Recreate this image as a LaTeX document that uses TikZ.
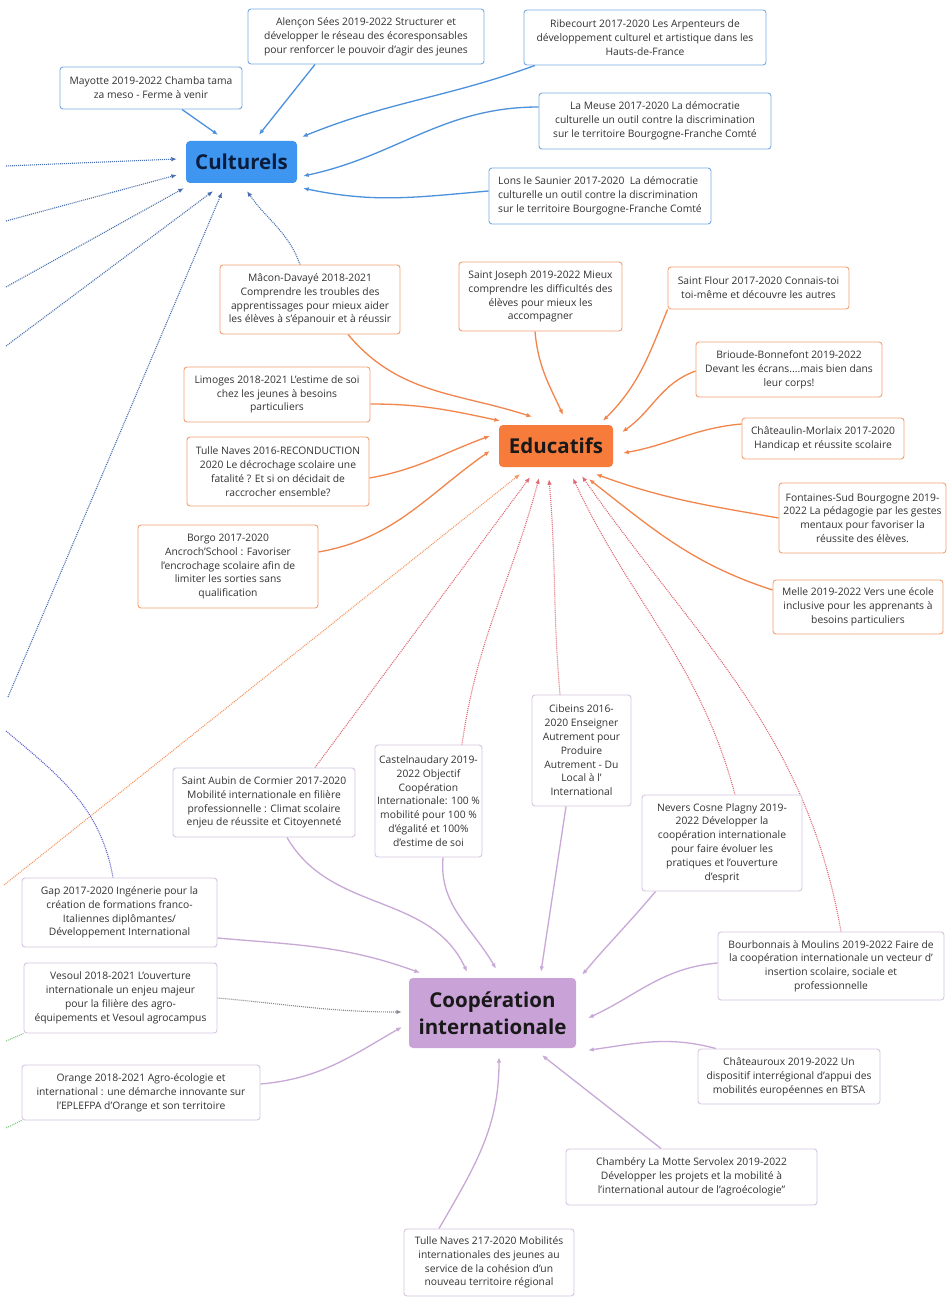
\documentclass[tikz,border=0pt]{standalone}
\usepackage{fontspec}
\setmainfont{Open Sans}
\usetikzlibrary{arrows.meta}
\pgfdeclarelayer{sheet}
\pgfdeclarelayer{links}
\pgfsetlayers{sheet,links,main}

\definecolor{culfill}{RGB}{62,150,240}
\definecolor{cultext}{RGB}{10,28,60}
\definecolor{blueline}{RGB}{120,170,225}
\definecolor{bluelink}{RGB}{75,145,220}
\definecolor{bluedot}{RGB}{70,110,175}
\definecolor{edufill}{RGB}{247,124,60}
\definecolor{orangeline}{RGB}{244,160,115}
\definecolor{orangelink}{RGB}{241,133,75}
\definecolor{orangedot}{RGB}{245,150,95}
\definecolor{pinkdot}{RGB}{225,105,115}
\definecolor{coopfill}{RGB}{201,162,216}
\definecolor{purpleline}{RGB}{214,196,224}
\definecolor{purplelink}{RGB}{200,168,214}
\definecolor{greydot}{RGB}{135,135,145}
\definecolor{violetdot}{RGB}{95,95,205}
\definecolor{greendot}{RGB}{110,200,110}
\definecolor{txtgray}{RGB}{50,50,50}

\begin{document}
\begin{tikzpicture}[x=1pt,y=-1pt,
  txtbox/.style={draw, rounded corners=3pt, line width=0.9pt, fill=white,
    align=center, inner sep=0pt, text=txtgray,
    font=\fontsize{10.3}{13.8}\selectfont},
  sz/.style 2 args={minimum width=#1pt, minimum height=#2pt},
  cbox/.style={txtbox, draw=blueline},
  ebox/.style={txtbox, draw=orangeline},
  ibox/.style={txtbox, draw=purpleline},
  hub/.style={rounded corners=4pt, inner sep=0pt, align=center,
    font=\fontsize{20.5}{27}\selectfont\bfseries},
  tip/.style={-{Latex[length=5.5pt,width=4.5pt]}},
  blink/.style={tip, line width=1.3pt, draw=bluelink},
  olink/.style={tip, line width=1.3pt, draw=orangelink},
  plink/.style={tip, line width=1.3pt, draw=purplelink},
  dots/.style={tip, line width=1.1pt, dash pattern=on 1pt off 1pt},
  bdot/.style={dots, draw=bluedot},
  odot/.style={dots, draw=orangedot},
  pdot/.style={dots, draw=pinkdot},
  gdot/.style={dots, draw=greydot},
]
\begin{pgfonlayer}{sheet}
\fill[white] (0,0) rectangle (949,1297);
\end{pgfonlayer}
\useasboundingbox (0,0) rectangle (949,1297);

% ---------- hubs ----------
\node[hub, fill=culfill, text=cultext, sz={111}{42}] (cult) at (241.5,162) {Culturels};
\node[hub, fill=edufill, text=black!90, sz={114}{42}] (edu) at (556,446) {Educatifs};
\node[hub, fill=coopfill, text=black!90, sz={167}{70}] (coop) at (492.5,1013) {Coopération\\internationale};

% ---------- cultural projects ----------
\node[cbox, sz={182}{42}] (mayotte) at (151,88) {Mayotte 2019-2022 Chamba tama\\za meso - Ferme à venir};
\node[cbox, sz={236}{55}] (alencon) at (366,36.5) {Alençon Sées 2019-2022 Structurer et\\développer le réseau des écoresponsables\\pour renforcer le pouvoir d'agir des jeunes};
\node[cbox, sz={242}{55}] (ribecourt) at (645,37.5) {Ribecourt 2017-2020 Les Arpenteurs de\\développement culturel et artistique dans les\\Hauts-de-France};
\node[cbox, sz={232}{56}] (meuse) at (655,121) {La Meuse 2017-2020 La démocratie\\culturelle un outil contre la discrimination\\sur le territoire Bourgogne-Franche Comté};
\node[cbox, sz={222}{56}, align=left] (lons) at (600,196) {Lons le Saunier 2017-2020 \ La démocratie\\culturelle un outil contre la discrimination\\sur le territoire Bourgogne-Franche Comté};

% ---------- educational projects ----------
\node[ebox, sz={180}{69}] (macon) at (310,299.5) {Mâcon-Davayé 2018-2021\\Comprendre les troubles des\\apprentissages pour mieux aider\\les élèves à s'épanouir et à réussir};
\node[ebox, sz={163}{69}] (joseph) at (540.5,296.5) {Saint Joseph 2019-2022 Mieux\\comprendre les difficultés des\\élèves pour mieux les\\accompagner};
\node[ebox, sz={181}{42}] (flour) at (758.5,288) {Saint Flour 2017-2020 Connais-toi\\toi-même et découvre les autres};
\node[ebox, sz={186}{55}] (limoges) at (277,394.5) {Limoges 2018-2021 L'estime de soi\\chez les jeunes à besoins\\particuliers};
\node[ebox, sz={186}{55}] (brioude) at (789,369.5) {Brioude-Bonnefont 2019-2022\\Devant les écrans....mais bien dans\\leur corps!};
\node[ebox, sz={182}{69}] (tulleA) at (278,471.5) {Tulle Naves 2016-RECONDUCTION\\2020 Le décrochage scolaire une\\fatalité ? Et si on décidait de\\raccrocher ensemble?};
\node[ebox, sz={162}{41}] (chateaulin) at (823,438.5) {Châteaulin-Morlaix 2017-2020\\Handicap et réussite scolaire};
\node[ebox, sz={180}{83}] (borgo) at (228,566.5) {Borgo 2017-2020\\Ancroch'School : Favoriser\\l'encrochage scolaire afin de\\limiter les sorties sans\\qualification};
\node[ebox, sz={167}{70}] (fontaines) at (862.5,518) {Fontaines-Sud Bourgogne 2019-\\2022 La pédagogie par les gestes\\mentaux pour favoriser la\\réussite des élèves.};
\node[ebox, sz={170}{54}] (melle) at (858,607) {Melle 2019-2022 Vers une école\\inclusive pour les apprenants à\\besoins particuliers};

% ---------- international projects ----------
\node[ibox, sz={99}{111}] (cibeins) at (581.5,750.5) {Cibeins 2016-\\2020 Enseigner\\Autrement pour\\Produire\\Autrement - Du\\Local à l'\\International};
\node[ibox, sz={107}{112}] (castel) at (428.5,801) {Castelnaudary 2019-\\2022 Objectif\\Coopération\\Internationale: 100 \%\\mobilité pour 100 \%\\d'égalité et 100\%\\d'estime de soi};
\node[ibox, sz={182}{69}] (aubin) at (264,802.5) {Saint Aubin de Cormier 2017-2020\\Mobilité internationale en filière\\professionnelle : Climat scolaire\\enjeu de réussite et Citoyenneté};
\node[ibox, sz={160}{96}] (nevers) at (722,843) {Nevers Cosne Plagny 2019-\\2022 Développer la\\coopération internationale\\pour faire évoluer les\\pratiques et l'ouverture\\d'esprit};
\node[ibox, sz={195}{69}] (gap) at (119.5,912.5) {Gap 2017-2020 Ingénerie pour la\\création de formations franco-\\Italiennes diplômantes/\\Développement International};
\node[ibox, sz={226}{68}] (bourb) at (831,966) {Bourbonnais à Moulins 2019-2022 Faire de\\la coopération internationale un vecteur d'\\insertion scolaire, sociale et\\professionnelle};
\node[ibox, sz={193}{70}] (vesoul) at (120.5,998) {Vesoul 2018-2021 L'ouverture\\internationale un enjeu majeur\\pour la filière des agro-\\équipements et Vesoul agrocampus};
\node[ibox, sz={182}{55}] (chatx) at (789,1076.5) {Châteauroux 2019-2022 Un\\dispositif interrégional d'appui des\\mobilités européennes en BTSA};
\node[ibox, sz={238}{55}] (orange) at (141,1092.5) {Orange 2018-2021 Agro-écologie et\\international : une démarche innovante sur\\l'EPLEFPA d'Orange et son territoire};
\node[ibox, sz={251}{56}] (chamb) at (691.5,1177) {Chambéry La Motte Servolex 2019-2022\\Développer les projets et la mobilité à\\l'international autour de l'agroécologie"};
\node[ibox, sz={170}{67}] (tulleB) at (489,1262.5) {Tulle Naves 217-2020 Mobilités\\internationales des jeunes au\\service de la cohésion d'un\\nouveau territoire régional};

% ---------- free ends of links leaving the sheet ----------
\coordinate (c1) at (6,166);
\coordinate (c2) at (6,221);
\coordinate (c3) at (6,287);
\coordinate (c4) at (6,346);
\coordinate (c5) at (8,697);
\coordinate (c6) at (4,885);
\coordinate (c7) at (6,731);
\coordinate (c8) at (6,1041);
\coordinate (c9) at (6,1128);

\begin{pgfonlayer}{links}
% into Culturels
\draw[blink] ([xshift=31pt]mayotte.south) -- ([xshift=-23.5pt,yshift=6pt]cult.north);
\draw[blink] ([xshift=-51pt]alencon.south) -- ([xshift=17.5pt,yshift=6pt]cult.north);
\draw[blink] ([xshift=-110pt]ribecourt.south) to[out=200,in=22] ([xshift=5pt,yshift=4pt]cult.north east);
\draw[blink] ([yshift=14pt]meuse.west) to[out=180,in=12] ([xshift=6pt,yshift=-14pt]cult.east);
\draw[blink] ([yshift=5pt]lons.west) to[out=185,in=-12] ([xshift=6pt,yshift=-5pt]cult.south east);
\draw[bdot] (c1) -- ([xshift=-9pt,yshift=3pt]cult.west);
\draw[bdot] (c2) -- ([xshift=-9pt,yshift=-13pt]cult.west);
\draw[bdot] (c3) -- ([xshift=-2pt,yshift=-5pt]cult.south west);
\draw[bdot] (c4) -- ([xshift=-28.5pt,yshift=-8pt]cult.south);
\draw[bdot] (c5) -- ([xshift=-19.5pt,yshift=-9pt]cult.south);
\draw[bdot] ([xshift=-10pt]macon.north) to[out=110,in=-55] ([xshift=5.5pt,yshift=-8pt]cult.south);

% into Educatifs
\draw[olink] ([xshift=38pt]macon.south) to[out=-50,in=162] ([xshift=-24pt,yshift=8pt]edu.north);
\draw[olink] ([yshift=-9.5pt]limoges.east) to[out=0,in=168] ([xshift=1pt,yshift=4pt]edu.north west);
\draw[olink] ([yshift=-6.5pt]tulleA.east) to[out=10,in=200] ([xshift=-9pt,yshift=10pt]edu.west);
\draw[olink] ([yshift=14.5pt]borgo.east) to[out=10,in=215] ([xshift=-9pt,yshift=-5pt]edu.west);
\draw[olink] ([xshift=-5.5pt]joseph.south) to[out=-85,in=115] ([xshift=7pt,yshift=10pt]edu.north);
\draw[olink] (flour.south west) to[out=-112,in=45] ([xshift=47pt,yshift=4pt]edu.north);
\draw[olink] ([yshift=-1.5pt]brioude.west) to[out=-160,in=35] ([xshift=9pt,yshift=14pt]edu.east);
\draw[olink] ([yshift=14.5pt]chateaulin.west) to[out=185,in=10] ([xshift=10pt,yshift=-7pt]edu.east);
\draw[olink] (fontaines.west) to[out=170,in=-20] ([xshift=40pt,yshift=-7pt]edu.south);
\draw[olink] ([yshift=17pt]melle.west) to[out=162,in=-38] ([xshift=33pt,yshift=-12pt]edu.south);
\draw[odot] (c6) -- ([xshift=-36pt,yshift=-7pt]edu.south);
\draw[pdot] ([xshift=51pt]aubin.north) -- ([xshift=-26pt,yshift=-10pt]edu.south);
\draw[pdot] ([xshift=33.5pt]castel.north) to[out=82,in=-105] ([xshift=-17pt,yshift=-11pt]edu.south);
\draw[pdot] ([xshift=-21.5pt]cibeins.north) to[out=95,in=-85] ([xshift=-7pt,yshift=-12pt]edu.south);
\draw[pdot] ([xshift=13pt]nevers.north) to[out=105,in=-65] ([xshift=17pt,yshift=-11pt]edu.south);
\draw[pdot] ([xshift=10pt]bourb.north) to[out=100,in=-55] ([xshift=26pt,yshift=-9pt]edu.south);

% into Cooperation internationale
\draw[plink] ([yshift=-25.5pt]gap.east) to[out=-5,in=160] ([xshift=-72.5pt,yshift=5pt]coop.north);
\draw[plink] ([xshift=23pt]aubin.south) to[out=-60,in=115] ([xshift=-25.5pt,yshift=6pt]coop.north);
\draw[plink] ([xshift=14.5pt]castel.south) to[out=-95,in=120] ([xshift=3.5pt,yshift=9pt]coop.north);
\draw[plink] ([xshift=-15.5pt]cibeins.south) -- ([xshift=48.5pt,yshift=6pt]coop.north);
\draw[plink] ([xshift=14pt]nevers.south west) to[out=-130,in=50] ([xshift=6pt,yshift=3pt]coop.north east);
\draw[plink] ([yshift=3pt]bourb.west) to[out=185,in=25] ([xshift=12pt,yshift=-5pt]coop.east);
\draw[plink] ([xshift=-73pt]chatx.north) to[out=165,in=8] ([xshift=12pt,yshift=-2pt]coop.south east);
\draw[plink] ([xshift=-30.5pt]chamb.north) -- ([xshift=49.5pt,yshift=-7pt]coop.south);
\draw[plink] ([xshift=-50pt]tulleB.north) to[out=60,in=-90] ([xshift=6.5pt,yshift=-9pt]coop.south);
\draw[gdot] (vesoul.east) to[out=-5,in=180] ([xshift=-7pt,yshift=1pt]coop.west);
\draw[plink] ([yshift=8.5pt]orange.east) to[out=5,in=-150] ([xshift=-7pt,yshift=-14pt]coop.west);

% links running off the sheet
\draw[line width=1.1pt, dash pattern=on 1pt off 1pt, violetdot] (c7) to[out=-40,in=100] ([xshift=-6.5pt]gap.north);
\draw[line width=1pt, dash pattern=on 1pt off 1pt, greendot] (vesoul.south west) -- (c8);
\draw[line width=1pt, dash pattern=on 1pt off 1pt, greendot] (orange.south west) -- (c9);
\end{pgfonlayer}
\end{tikzpicture}
\end{document}
